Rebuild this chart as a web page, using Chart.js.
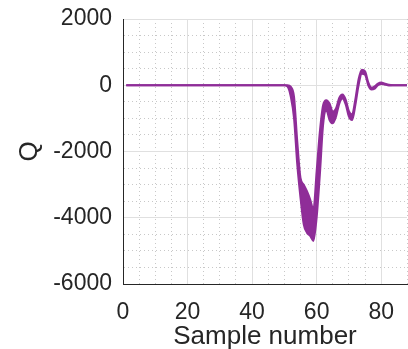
<!DOCTYPE html>
<html>
<head>
<meta charset="utf-8">
<script src="https://cdn.jsdelivr.net/npm/chart.js@4"></script>
<style>
  html, body { margin: 0; padding: 0; background: #fff; overflow: hidden; }
</style>
</head>
<body>
<canvas id="c" width="408" height="349"></canvas>
<script>
// sample index (x) for every trace
const samples = [
  1, 2, 3, 4, 5, 6, 7, 8, 9, 10, 11, 12, 13, 14, 15, 16, 17, 18, 19, 20,
  21, 22, 23, 24, 25, 26, 27, 28, 29, 30, 31, 32, 33, 34, 35, 36, 37, 38, 39, 40,
  41, 42, 43, 44, 45, 46, 47, 48, 49, 50, 51, 52, 53, 54, 55, 56, 57, 58, 59, 60,
  61, 62, 63, 64, 65, 66, 67, 68, 69, 70, 71, 72, 73, 74, 75, 76, 77, 78, 79, 80,
  81, 82, 83, 84, 85, 86, 87, 88,
];

// upper edge of the bundle of Q traces
const qUpper = [
  0, 0, 0, 0, 0, 0, 0, 0, 0, 0, 0, 0, 0, 0, 0, 0, 0, 0, 0, 0,
  0, 0, 0, 0, 0, 0, 0, 0, 0, 0, 0, 0, 0, 0, 0, 0, 0, 0, 0, 0,
  0, 0, 0, 0, 0, 0, 0, 0, 0, 0, 0, -50, -350, -1700, -2800, -3000, -3200, -3450, -3750, -2600,
  -1400, -600, -450, -550, -800, -700, -380, -280, -430, -780, -880, -420, 180, 470, 420, 90, -70, -30, 50, 80,
  55, 20, 5, 0, 0, 0, 0, 0,
];

// lower edge of the bundle
const qLower = [
  0, 0, 0, 0, 0, 0, 0, 0, 0, 0, 0, 0, 0, 0, 0, 0, 0, 0, 0, 0,
  0, 0, 0, 0, 0, 0, 0, 0, 0, 0, 0, 0, 0, 0, 0, 0, 0, 0, 0, 0,
  0, 0, 0, 0, 0, 0, 0, 0, 0, 0, -40, -350, -1000, -2400, -3400, -4200, -4450, -4550, -4700, -4000,
  -2700, -1200, -750, -1050, -1150, -950, -560, -400, -580, -950, -1050, -600, 0, 350, 320, 0, -130, -100, 0, 40,
  25, 0, -5, 0, 0, 0, 0, 0,
];

const xMajor = 20, yMajor = 2000;
const purple = "#8f2d98";
const ink = "#262626";
const font = "'Liberation Sans', Arial, Helvetica, sans-serif";

const pts = arr => arr.map((v, i) => ({ x: samples[i], y: v }));
const isMajor = (c, step) => c.tick && c.tick.value % step === 0;
// in v4 the grid-line dash lives under border.dash; the axis line itself has no tick
const dash = step => c => (!c.tick || isMajor(c, step)) ? [] : [1, 3];

new Chart(document.getElementById("c"), {
  type: "line",
  data: {
    datasets: [
      { data: pts(qUpper), borderColor: purple, borderWidth: 2, pointRadius: 0,
        cubicInterpolationMode: "monotone", fill: false },
      { data: pts(qLower), borderColor: purple, borderWidth: 2, pointRadius: 0,
        cubicInterpolationMode: "monotone", fill: 0, backgroundColor: purple },
    ],
  },
  options: {
    responsive: false,
    animation: false,
    layout: { padding: { left: 0, top: 19, right: 1, bottom: 0 } },
    plugins: { legend: { display: false }, tooltip: { enabled: false } },
    scales: {
      x: {
        type: "linear", min: 0, max: 88,
        afterFit: s => { s.height = 65; s.paddingLeft = 0; s.paddingRight = 0; },
        border: { color: ink, width: 1, dash: dash(xMajor) },
        grid: {
          drawTicks: false,
          color: c => isMajor(c, xMajor) ? "#e0e0e0" : "#c8c8c8",
        },
        ticks: {
          stepSize: 5, autoSkip: false, maxRotation: 0, padding: 15, color: ink,
          font: { family: font, size: 23 },
          callback: v => v % xMajor === 0 ? String(v) : "",
        },
        title: { display: true, text: "Sample number", color: ink,
          font: { family: font, size: 26, lineHeight: 1 }, padding: { top: 0, bottom: -1 } },
      },
      y: {
        min: -6000, max: 2000,
        afterFit: s => { s.width = 123; s.paddingTop = 0; s.paddingBottom = 0; },
        border: { color: ink, width: 1, dash: dash(yMajor) },
        grid: {
          drawTicks: false,
          color: c => isMajor(c, yMajor) ? "#e0e0e0" : "#c8c8c8",
        },
        ticks: {
          stepSize: 500, autoSkip: false, padding: 11, color: ink,
          font: { family: font, size: 23 },
          callback: v => v % yMajor === 0 ? String(v) : "",
        },
        title: { display: true, text: "Q", color: ink,
          font: { family: font, size: 26 }, padding: { top: 14, bottom: 0 } },
      },
    },
  },
});
</script>
</body>
</html>
